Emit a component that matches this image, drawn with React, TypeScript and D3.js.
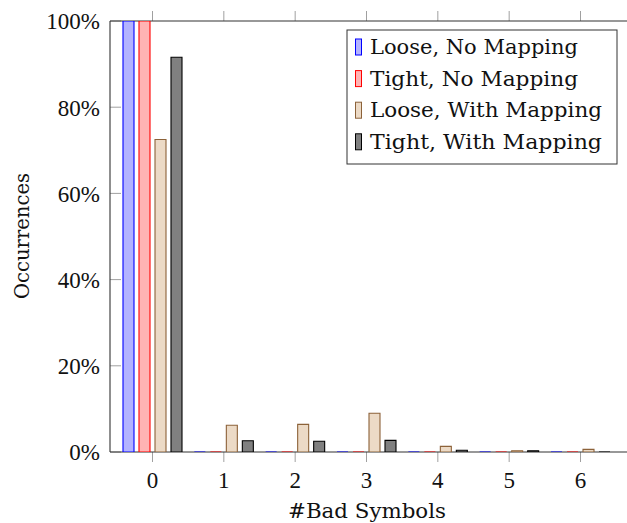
import React from 'react';
import * as d3 from 'd3';

const categories = [0, 1, 2, 3, 4, 5, 6];
const looseNoMapping = [100, 0, 0, 0, 0, 0, 0];
const tightNoMapping = [100, 0, 0, 0, 0, 0, 0];
const looseWithMapping = [72.5, 6.2, 6.4, 9.0, 1.3, 0.3, 0.6];
const tightWithMapping = [91.6, 2.6, 2.5, 2.7, 0.4, 0.3, 0];
const yTicks = [0, 20, 40, 60, 80, 100];

const series = [
  { name: 'Loose, No Mapping', values: looseNoMapping, fill: '#b3b3ff', stroke: '#0000ff' },
  { name: 'Tight, No Mapping', values: tightNoMapping, fill: '#ffb3b3', stroke: '#ff0000' },
  { name: 'Loose, With Mapping', values: looseWithMapping, fill: '#ecdac6', stroke: '#8c6239' },
  { name: 'Tight, With Mapping', values: tightWithMapping, fill: '#808080', stroke: '#000000' },
];

const W = 627, H = 523;
const left = 110, top = 21, bottom = 452, right = 640;
const font = '"DejaVu Serif", serif';
const numFont = '"Liberation Serif", serif';

export default function App() {
  const x = d3.scaleLinear().domain([0, 6]).range([152.5, 580.5]);
  const y = d3.scaleLinear().domain([0, 100]).range([bottom, top]);
  const barW = 11;
  const offsets = [-24, -8, 8, 24];

  return (
    <svg width={W} height={H} style={{ position: 'absolute', left: 0, top: 0 }} fontFamily={font}>
      <defs>
        <clipPath id="plot">
          <rect x={left} y={top} width={right - left} height={bottom - top} />
        </clipPath>
      </defs>
      {/* ticks */}
      {categories.map(c => (
        <g key={'xt' + c} stroke="#a0a0a0" strokeWidth={1}>
          <line x1={x(c)} x2={x(c)} y1={bottom} y2={bottom + 10} />
          <line x1={x(c)} x2={x(c)} y1={top} y2={top - 10} />
        </g>
      ))}
      {yTicks.map(t => (
        <line key={'yt' + t} x1={left} x2={left + 11} y1={y(t)} y2={y(t)} stroke="#a0a0a0" strokeWidth={1} />
      ))}
      {/* axis frame */}
      <g stroke="#333" strokeWidth={1.1} fill="none">
        <line x1={left} x2={left} y1={top} y2={bottom} />
        <line x1={left} x2={right} y1={top} y2={top} />
        <line x1={left} x2={right} y1={bottom} y2={bottom} />
      </g>
      {/* bars */}
      <g clipPath="url(#plot)">
        {series.map((s, si) =>
          s.values.map((v, i) => {
            const x0 = x(categories[i]) + offsets[si] - barW / 2;
            const y0 = y(v);
            return (
              <path
                key={s.name + i}
                d={`M${x0},${bottom}V${y0}H${x0 + barW}V${bottom}Z`}
                fill={s.fill}
                stroke={s.stroke}
                strokeWidth={1.1}
              />
            );
          })
        )}
      </g>
      {/* tick labels */}
      {categories.map(c => (
        <text key={'xl' + c} x={x(c)} y={488} textAnchor="middle" fontSize={23} fontFamily={numFont} fill="#111">{c}</text>
      ))}
      {yTicks.map(t => (
        <text key={'yl' + t} x={100} y={y(t) + 8.3} textAnchor="end" fontSize={23} fontFamily={numFont} fill="#111">{t}%</text>
      ))}
      {/* axis titles */}
      <text x={367} y={518} textAnchor="middle" fontSize={20} fill="#111" textLength={158} lengthAdjust="spacingAndGlyphs">#Bad Symbols</text>
      <text transform={`translate(29,236) rotate(-90)`} textAnchor="middle" fontSize={20} fill="#111" textLength={126} lengthAdjust="spacingAndGlyphs">Occurrences</text>
      {/* legend */}
      <rect x={347} y={30} width={270} height={134} fill="#fff" stroke="#333" strokeWidth={1} />
      {series.map((s, i) => {
        const cy = 47 + i * 31.6;
        return (
          <g key={'lg' + i}>
            <rect x={355.5} y={cy - 8} width={6} height={16} fill={s.fill} stroke={s.stroke} strokeWidth={1} />
            <text x={370} y={cy + 7} fontSize={19.5} fill="#111" textLength={s.name.length > 18 ? 232 : 208} lengthAdjust="spacingAndGlyphs">{s.name}</text>
          </g>
        );
      })}
    </svg>
  );
}
